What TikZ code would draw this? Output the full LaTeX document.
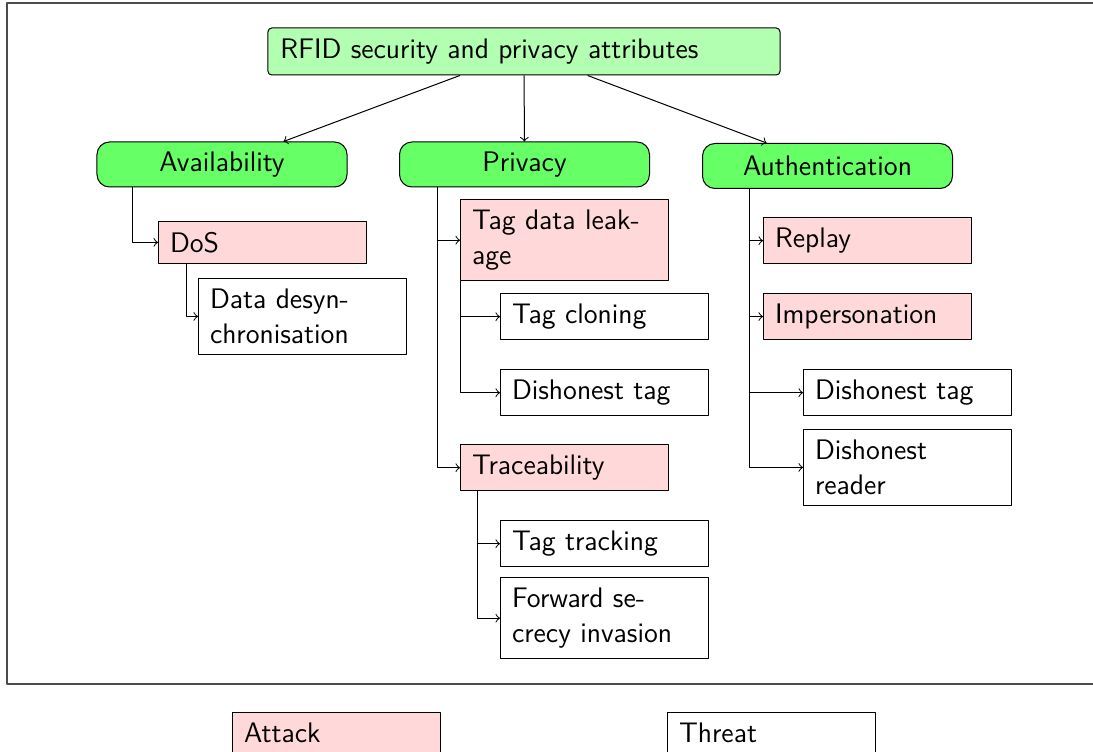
\documentclass[tikz,border=0pt]{standalone}
\begin{document}
\begin{tikzpicture}[x=0.4pt,y=-0.4pt,>=to,font=\sffamily\fontsize{11.3}{14}\selectfont,line join=round,
    rootbox/.style={draw,rounded corners=1.5pt,fill=green!30,text width=194.8pt,minimum height=18.8pt,inner xsep=5pt,align=left},
    attrbox/.style={draw,rounded corners=5pt,fill=green!60,minimum width=100pt,minimum height=18pt},
    itembox/.style={draw,text width=74pt,inner xsep=4.6pt,inner ysep=4.2pt,align=left,anchor=north west},
    attack/.style={itembox,fill=red!15},
    threat/.style={itembox,fill=white}]
    \useasboundingbox (0,0) rectangle (1093,752);
    \draw[black!70,line width=0.8pt] (6.5,3.5) rectangle (1110,684);
    % attributes
    \node[rootbox] (root) at (524,51.5) {RFID security and privacy attributes};
    \node[attrbox] (avail) at (222,164.5) {Availability};
    \node[attrbox] (priv) at (524.5,164.5) {Privacy};
    \node[attrbox] (auth) at (827.5,166) {Authentication};
    \foreach \n in {avail,priv,auth} \draw[->] (root) -- (\n);
    % availability
    \node[attack] (dos) at (158,221) {DoS};
    \node[threat] (desync) at (198,278) {Data desyn-\\chronisation};
    % privacy
    \node[attack] (leak) at (460,199) {Tag data leak-\\age};
    \node[threat] (clon) at (500,293) {Tag cloning};
    \node[threat] (pdtag) at (500,369) {Dishonest tag};
    \node[attack] (trace) at (460,444) {Traceability};
    \node[threat] (track) at (500,520) {Tag tracking};
    \node[threat] (fwd) at (500,577) {Forward se-\\crecy invasion};
    % authentication
    \node[attack] (replay) at (763,217) {Replay};
    \node[attack] (imper) at (763,293) {Impersonation};
    \node[threat] (adtag) at (803,369) {Dishonest tag};
    \node[threat] (areader) at (803,429) {Dishonest\\reader};
    % legend
    \node[attack] (lattack) at (232,712) {Attack};
    \node[threat] (lthreat) at (667,712) {Threat};
    % connectors
    \draw[->] (avail.south west) ++(36,0) |- (dos.west);
    \draw[->] (dos.south west) ++(28,0) |- (desync.west);
    \foreach \n in {leak,trace} \draw[->] (priv.south west) ++(38,0) |- (\n.west);
    \foreach \n in {clon,pdtag} \draw[->] (leak.south west) |- (\n.west);
    \foreach \n in {track,fwd} \draw[->] (trace.south west) ++(17,0) |- (\n.west);
    \foreach \n in {replay,imper,adtag,areader} \draw[->] (auth.south west) ++(47,0) |- (\n.west);
\end{tikzpicture}
\end{document}
